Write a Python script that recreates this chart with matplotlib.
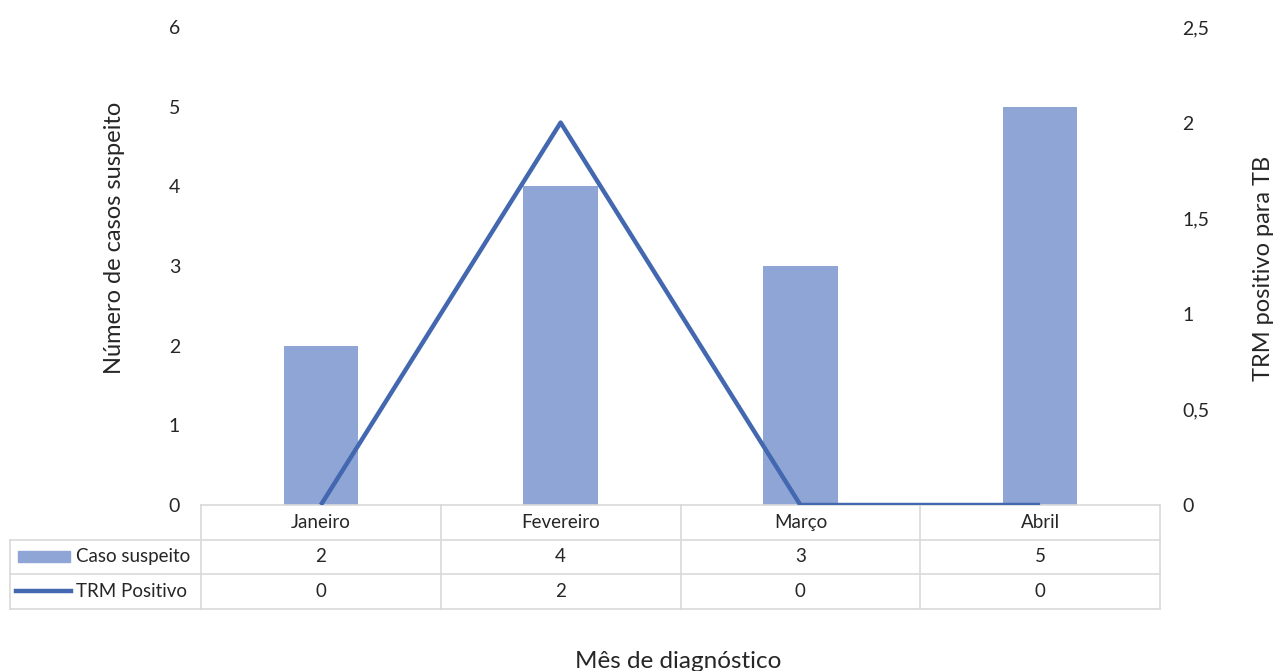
import matplotlib
matplotlib.use("Agg")
import matplotlib.pyplot as plt
from matplotlib.patches import Rectangle
from matplotlib.lines import Line2D

plt.rcParams['font.family'] = ['Lato', 'DejaVu Sans']

meses = ["Janeiro", "Fevereiro", "Março", "Abril"]
caso_suspeito = [2, 4, 3, 5]
trm_positivo = [0, 2, 0, 0]
left_ticks = [0, 1, 2, 3, 4, 5, 6]
right_ticks = [0, 0.5, 1, 1.5, 2, 2.5]
right_labels = ["0", "0,5", "1", "1,5", "2", "2,5"]

bar_color = "#8FA5D6"
line_color = "#4368B0"
grid_color = "#D9D9D9"
txt = "#262626"

W, H = 1278, 671
fig = plt.figure(figsize=(W/100, H/100), dpi=100)
ax = fig.add_axes([201/W, 1-505/H, 959/W, 478/H])
ax2 = ax.twinx()

x = list(range(len(meses)))
ax.bar(x, caso_suspeito, width=0.31, color=bar_color, zorder=2)
ax2.plot(x, trm_positivo, color=line_color, lw=3.2, solid_capstyle='butt', zorder=3)

ax.set_xlim(-0.5, 3.5)
ax.set_ylim(0, 6)
ax2.set_ylim(0, 2.5)
ax.set_yticks(left_ticks)
ax.set_yticklabels([str(t) for t in left_ticks])
ax2.set_yticks(right_ticks)
ax2.set_yticklabels(right_labels)
ax.set_xticks([])

for a in (ax, ax2):
    for s in a.spines.values():
        s.set_visible(False)
    a.tick_params(length=0, labelsize=14, colors=txt)
ax.tick_params(axis='y', pad=15)
ax2.tick_params(axis='y', pad=16)

# axis titles
fig.text(115/W, 1-238/H, "Número de casos suspeito", rotation=90, ha='center', va='center',
         fontsize=17, color=txt)
fig.text(1264/W, 1-268/H, "TRM positivo para TB", rotation=90, ha='center', va='center',
         fontsize=17, color=txt)
fig.text(678/W, 1-662/H, "Mês de diagnóstico", ha='center', va='center', fontsize=17.5, color=txt)

# data table below axes
rh = 34.5 / 478
xl = -0.5 - 191/240
xr = 3.5
tr = ax.get_xaxis_transform()
kw = dict(color=grid_color, lw=1.2, transform=tr, clip_on=False)
ax.plot([-0.5, xr], [0, 0], **kw)
for k in (1, 2, 3):
    ax.plot([xl, xr], [-k*rh, -k*rh], **kw)
ax.plot([xl, xl], [-rh, -3*rh], **kw)
for e in [-0.5, 0.5, 1.5, 2.5, 3.5]:
    ax.plot([e, e], [0, -3*rh], **kw)

fs = 13.5
for i, m in enumerate(meses):
    ax.text(i, -0.5*rh, m, ha='center', va='center', fontsize=fs, color=txt, transform=tr)
    ax.text(i, -1.5*rh, str(caso_suspeito[i]), ha='center', va='center', fontsize=fs, color=txt, transform=tr)
    ax.text(i, -2.5*rh, str(trm_positivo[i]), ha='center', va='center', fontsize=fs, color=txt, transform=tr)

# legend keys in the table
pw = 1 / 240
ax.add_patch(Rectangle((xl + 8*pw, -1.5*rh - 0.012), 52*pw, 0.024, color=bar_color,
                       transform=tr, clip_on=False))
ax.add_line(Line2D([xl + 6*pw, xl + 61*pw], [-2.5*rh, -2.5*rh], color=line_color, lw=3.2,
                   transform=tr, clip_on=False))
ax.text(xl + 66*pw, -1.5*rh, "Caso suspeito", ha='left', va='center', fontsize=fs, color=txt, transform=tr)
ax.text(xl + 66*pw, -2.5*rh, "TRM Positivo", ha='left', va='center', fontsize=fs, color=txt, transform=tr)

fig.savefig("out.png", dpi=100)
